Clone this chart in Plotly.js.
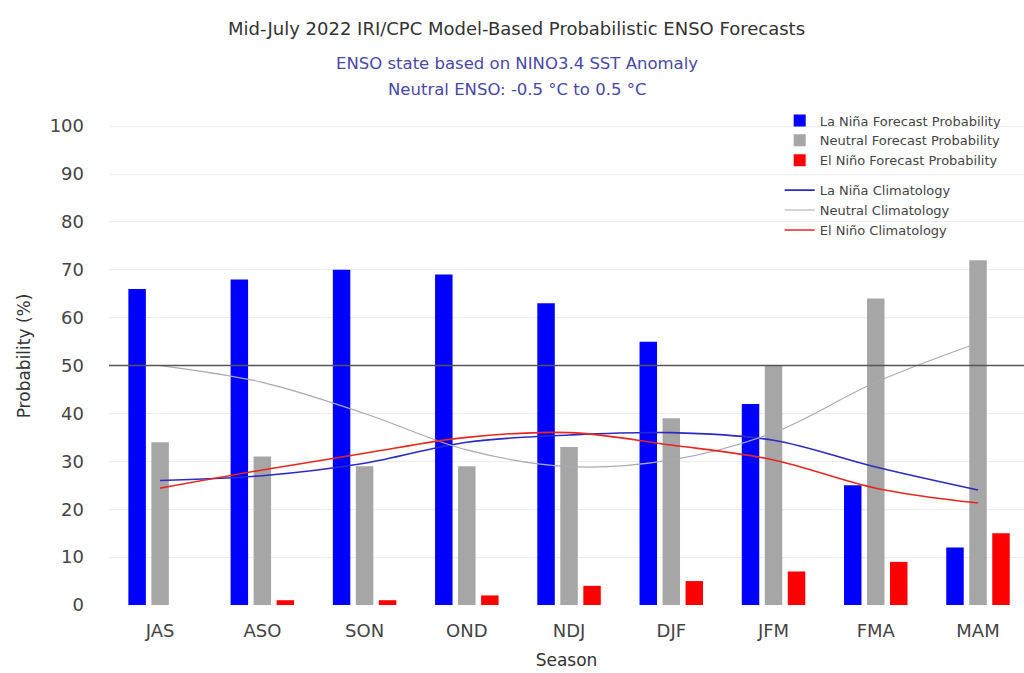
<!DOCTYPE html>
<html>
<head>
<meta charset="utf-8">
<script src="https://cdn.plot.ly/plotly-3.0.1.min.js"></script>
<style>html,body{margin:0;padding:0;background:#fff;}#chart{width:1024px;height:673px;}</style>
</head>
<body>
<div id="chart"></div>
<script>
var seasons = ["JAS","ASO","SON","OND","NDJ","DJF","JFM","FMA","MAM"];
var laNinaProb = [66,68,70,69,63,55,42,25,12];
var neutralProb = [34,31,29,29,33,39,50,64,72];
var elNinoProb = [0,1,1,2,4,5,7,9,15];
var laNinaClim = [26,27,29.6,34,35.5,36,34.4,28.8,24];
var neutralClim = [50,46.5,40,32.4,28.9,30.3,36,46.5,54.7];
var elNinoClim = [24.4,28.2,31.7,35,36,33.4,30.3,24.4,21.3];
var yTicks = [0,10,20,30,40,50,60,70,80,90,100];
var titleText = 'Mid-July 2022 IRI/CPC Model-Based Probabilistic ENSO Forecasts';
var subtitle1 = 'ENSO state based on NINO3.4 SST Anomaly';
var subtitle2 = 'Neutral ENSO: -0.5 °C to 0.5 °C';

var FONT = 'DejaVu Sans, sans-serif';
var traces = [
  {type:'bar', x:seasons, y:laNinaProb, name:'La Niña Forecast Probability', marker:{color:'#0000ff'}, legendgroup:'bars'},
  {type:'bar', x:seasons, y:neutralProb, name:'Neutral Forecast Probability', marker:{color:'#a6a6a6'}, legendgroup:'bars'},
  {type:'bar', x:seasons, y:elNinoProb, name:'El Niño Forecast Probability', marker:{color:'#ff0000'}, legendgroup:'bars'},
  {type:'scatter', mode:'lines', x:seasons, y:laNinaClim, name:'La Niña Climatology', line:{color:'#2b2bc4', width:1.6, shape:'spline'}, legendgroup:'lines'},
  {type:'scatter', mode:'lines', x:seasons, y:neutralClim, name:'Neutral Climatology', line:{color:'#a9a9b4', width:1.1, shape:'spline'}, legendgroup:'lines'},
  {type:'scatter', mode:'lines', x:seasons, y:elNinoClim, name:'El Niño Climatology', line:{color:'#e8261e', width:1.6, shape:'spline'}, legendgroup:'lines'}
];

var layout = {
  width:1024, height:673,
  margin:{l:109, r:0, t:107, b:68},
  paper_bgcolor:'#fff', plot_bgcolor:'#fff',
  font:{family:FONT, color:'#333'},
  barmode:'group', bargap:0.325, bargroupgap:0.24,
  xaxis:{type:'category', range:[-0.5, 8.45], title:{text:'Season', font:{size:17, color:'#333'}, standoff:14},
    tickfont:{size:18, color:'#444'}, ticklabelstandoff:13, showgrid:false, zeroline:false, showline:false, ticks:''},
  yaxis:{title:{text:'Probability (%)', font:{size:17, color:'#333'}, standoff:14}, range:[0,104],
    tickvals:yTicks, tickfont:{size:18, color:'#444'}, ticklabelstandoff:24, gridcolor:'#ececec', gridwidth:1, zeroline:false, showline:false, ticks:''},
  shapes:[{type:'line', xref:'paper', x0:0, x1:1, yref:'y', y0:50, y1:50, line:{color:'#555', width:1.5}}],
  annotations:[
    {text:titleText, xref:'paper', yref:'paper', x:(516-109)/915, y:1+(107-28)/498, xanchor:'center', yanchor:'middle', showarrow:false, font:{size:18, color:'#333', family:FONT}},
    {text:subtitle1, xref:'paper', yref:'paper', x:(517-109)/915, y:1+(107-63)/498, xanchor:'center', yanchor:'middle', showarrow:false, font:{size:16.5, color:'#4848a8', family:FONT}},
    {text:subtitle2, xref:'paper', yref:'paper', x:(517-109)/915, y:1+(107-89)/498, xanchor:'center', yanchor:'middle', showarrow:false, font:{size:16.5, color:'#4848a8', family:FONT}}
  ],
  legend:{x:0.733, xanchor:'left', y:1.003, yanchor:'top', font:{size:13, color:'#444', family:FONT}, tracegroupgap:10, bgcolor:'rgba(255,255,255,0)', itemwidth:30, traceorder:'grouped'},
  showlegend:true
};
Plotly.newPlot('chart', traces, layout, {displayModeBar:false});
</script>
</body>
</html>
